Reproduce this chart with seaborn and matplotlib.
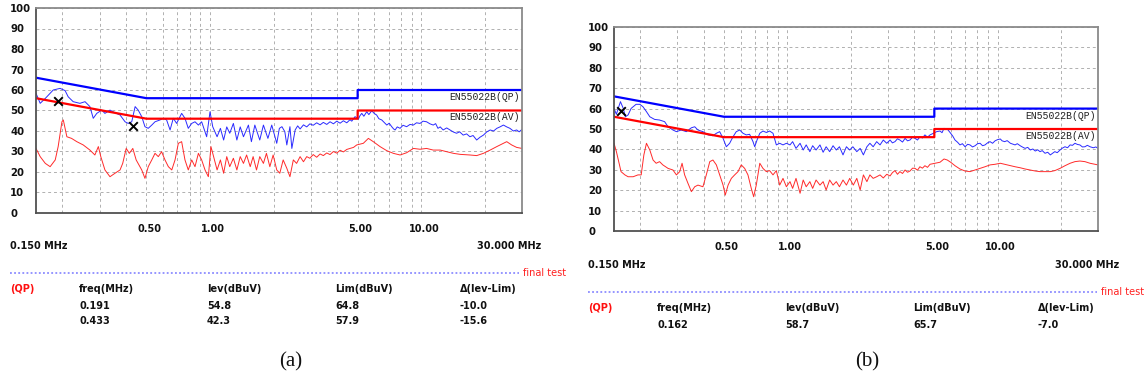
import numpy as np
import pandas as pd
import matplotlib
matplotlib.use("Agg")
import matplotlib.pyplot as plt
import matplotlib.transforms as mtransforms
from matplotlib.ticker import FixedLocator, FixedFormatter, NullFormatter
import seaborn as sns

# ---------------- data ----------------
limit_freq = [0.15, 0.5, 5.0, 5.0, 30.0]
qp_limit = [66, 56, 56, 60, 60]
av_limit = [56, 46, 46, 50, 50]

y_ticks = [0, 10, 20, 30, 40, 50, 60, 70, 80, 90, 100]
x_ticks = [0.5, 1.0, 5.0, 10.0]
x_tick_labels = ["0.50", "1.00", "5.00", "10.00"]
x_grid_minor = [0.2, 0.3, 0.4, 0.6, 0.7, 0.8, 0.9, 2, 3, 4, 6, 7, 8, 9, 20]

# panel (a) QP trace (freq MHz, level dBuV)
a_qp = [(0.150, 58.4), (0.157, 53.5), (0.166, 55.9), (0.175, 58.4), (0.181, 60.0),
        (0.195, 60.8), (0.206, 59.7), (0.213, 56.7), (0.225, 54.3), (0.242, 53.5),
        (0.256, 54.3), (0.270, 51.9), (0.280, 46.2), (0.291, 48.6), (0.307, 50.2),
        (0.318, 48.6), (0.336, 50.2), (0.355, 48.9), (0.375, 47.8), (0.396, 44.5),
        (0.410, 43.7), (0.426, 44.5), (0.442, 51.9), (0.457, 50.2), (0.475, 47.0),
        (0.492, 42.1), (0.510, 41.3), (0.530, 42.9), (0.549, 44.5), (0.580, 45.4),
        (0.601, 46.2), (0.623, 45.4), (0.647, 40.5), (0.670, 46.2), (0.695, 43.7),
        (0.734, 48.6), (0.761, 46.2), (0.789, 41.3), (0.819, 43.7), (0.849, 44.5),
        (0.881, 42.9), (0.913, 44.5), (0.964, 37.2), (1.00, 49.4), (1.03, 42.1),
        (1.08, 37.2), (1.12, 41.3), (1.16, 35.6), (1.20, 42.0), (1.24, 38.9),
        (1.29, 43.7), (1.34, 35.6), (1.39, 42.0), (1.44, 37.2), (1.52, 42.9),
        (1.57, 34.8), (1.63, 42.9), (1.72, 35.6), (1.79, 42.9), (1.88, 36.4),
        (1.96, 42.9), (2.07, 34.0), (2.13, 41.3), (2.19, 42.1), (2.26, 39.7),
        (2.31, 33.2), (2.39, 42.1), (2.44, 31.5), (2.53, 40.5), (2.60, 42.5),
        (2.67, 41.0), (2.77, 43.0), (2.87, 42.0), (2.97, 43.5), (3.08, 42.8),
        (3.20, 44.0), (3.32, 43.0), (3.44, 44.2), (3.57, 43.2), (3.70, 44.5),
        (3.84, 43.5), (3.98, 44.8), (4.13, 43.8), (4.28, 45.0), (4.44, 44.0),
        (4.60, 45.5), (4.69, 44.8), (4.86, 47.0), (5.04, 45.8), (5.13, 47.5),
        (5.23, 48.6), (5.35, 47.2), (5.52, 49.4), (5.65, 48.0), (5.83, 49.9),
        (6.00, 48.5), (6.15, 47.8), (6.30, 46.0), (6.50, 45.4), (6.70, 44.0),
        (6.87, 42.9), (7.05, 43.8), (7.25, 42.1), (7.40, 41.0), (7.52, 40.5),
        (7.70, 42.0), (7.94, 41.3), (8.20, 42.8), (8.53, 42.1), (8.85, 43.2),
        (9.18, 42.9), (9.50, 44.0), (9.87, 43.7), (10.2, 44.8), (10.6, 44.5),
        (11.0, 43.5), (11.4, 42.9), (11.7, 43.6), (12.0, 41.3), (12.3, 42.0),
        (12.7, 40.5), (13.2, 41.5), (13.7, 40.5), (14.2, 39.5), (14.7, 38.9),
        (15.2, 39.6), (15.8, 38.0), (16.4, 38.6), (17.0, 37.2), (17.6, 37.8),
        (18.3, 35.6), (19.0, 37.0), (19.7, 38.0), (20.4, 39.5), (21.2, 40.5),
        (22.0, 40.0), (22.8, 41.3), (23.6, 42.0), (24.5, 42.9), (25.4, 42.0),
        (26.3, 41.3), (27.3, 40.0), (28.3, 40.5), (29.1, 39.6), (30.0, 40.8)]

# panel (a) AV trace
a_av = [(0.150, 31.5), (0.157, 27.5), (0.166, 24.2), (0.175, 22.6), (0.185, 25.9),
        (0.191, 32.4), (0.199, 44.5), (0.202, 45.4), (0.210, 37.2), (0.221, 36.4),
        (0.234, 34.8), (0.251, 33.2), (0.270, 30.7), (0.285, 28.3), (0.296, 32.4),
        (0.304, 27.5), (0.318, 21.0), (0.336, 17.7), (0.355, 19.4), (0.375, 21.0),
        (0.386, 24.2), (0.401, 31.5), (0.415, 29.1), (0.431, 31.5), (0.447, 25.9),
        (0.475, 21.0), (0.492, 16.9), (0.510, 22.6), (0.530, 25.9), (0.549, 29.1),
        (0.569, 27.5), (0.590, 29.9), (0.612, 25.9), (0.635, 22.6), (0.659, 21.0),
        (0.683, 25.9), (0.708, 34.0), (0.734, 34.8), (0.761, 25.9), (0.789, 21.0),
        (0.819, 25.9), (0.849, 22.6), (0.881, 29.1), (0.913, 25.9), (0.947, 21.0),
        (0.982, 17.7), (1.01, 32.4), (1.04, 27.5), (1.08, 21.0), (1.12, 25.9),
        (1.16, 19.4), (1.20, 27.5), (1.24, 22.6), (1.29, 26.7), (1.34, 21.0),
        (1.39, 27.5), (1.44, 24.2), (1.49, 28.3), (1.55, 22.6), (1.60, 27.5),
        (1.66, 21.0), (1.72, 27.5), (1.79, 24.2), (1.85, 29.1), (1.92, 22.6),
        (1.99, 28.3), (2.07, 21.0), (2.14, 19.4), (2.22, 25.9), (2.31, 21.8),
        (2.39, 17.7), (2.48, 25.9), (2.57, 24.2), (2.67, 27.5), (2.77, 25.0),
        (2.87, 27.5), (2.97, 26.7), (3.08, 28.5), (3.20, 27.2), (3.32, 28.8),
        (3.44, 28.0), (3.57, 29.3), (3.70, 28.5), (3.84, 30.0), (3.98, 29.2),
        (4.13, 30.6), (4.28, 29.8), (4.44, 31.0), (4.60, 31.5), (4.78, 32.0),
        (4.95, 33.2), (5.32, 34.0), (5.62, 36.4), (5.93, 34.8), (6.38, 32.4),
        (6.87, 30.4), (7.38, 29.1), (7.94, 28.3), (8.53, 29.4), (9.18, 31.5),
        (9.87, 31.1), (10.6, 31.5), (11.4, 30.7), (12.3, 30.7), (13.2, 29.9),
        (14.2, 29.1), (15.3, 28.6), (17.0, 28.3), (18.3, 28.0), (19.7, 29.1),
        (21.2, 30.7), (22.8, 32.4), (24.5, 34.0), (25.4, 34.8), (26.8, 33.2),
        (28.3, 32.0), (30.0, 31.5)]

# panel (b) QP trace
b_qp = [(0.150, 60.1), (0.154, 57.2), (0.158, 60.9), (0.161, 63.4), (0.166, 60.1),
        (0.170, 56.0), (0.175, 56.9), (0.181, 60.1), (0.191, 62.1), (0.199, 62.1),
        (0.206, 60.9), (0.214, 58.5), (0.222, 56.0), (0.234, 54.7), (0.247, 54.4),
        (0.261, 53.6), (0.271, 51.1), (0.286, 49.5), (0.297, 48.7), (0.313, 49.5),
        (0.331, 48.7), (0.350, 50.6), (0.363, 51.1), (0.376, 49.5), (0.397, 48.7),
        (0.420, 47.1), (0.443, 46.7), (0.460, 47.9), (0.477, 48.7), (0.495, 45.4),
        (0.513, 41.3), (0.532, 43.0), (0.552, 46.2), (0.572, 48.7), (0.594, 49.5),
        (0.616, 47.9), (0.638, 47.1), (0.662, 47.4), (0.687, 43.8), (0.700, 41.3),
        (0.718, 44.6), (0.740, 47.9), (0.766, 49.0), (0.795, 48.3), (0.824, 49.0),
        (0.855, 47.9), (0.887, 42.2), (0.920, 43.0), (0.954, 42.2), (0.990, 43.0),
        (1.03, 42.2), (1.06, 43.8), (1.10, 40.5), (1.15, 43.0), (1.19, 39.7),
        (1.23, 42.2), (1.28, 38.9), (1.32, 41.8), (1.37, 39.7), (1.43, 42.2),
        (1.48, 38.6), (1.53, 41.3), (1.59, 38.9), (1.65, 41.8), (1.71, 39.7),
        (1.77, 41.3), (1.84, 37.3), (1.91, 41.3), (1.98, 39.7), (2.05, 41.3),
        (2.14, 38.9), (2.22, 40.5), (2.30, 37.3), (2.39, 41.3), (2.47, 43.0),
        (2.56, 41.3), (2.66, 43.8), (2.76, 42.2), (2.86, 44.6), (2.97, 43.0),
        (3.08, 44.6), (3.16, 43.2), (3.25, 43.8), (3.34, 45.2), (3.43, 44.6),
        (3.53, 43.6), (3.63, 45.4), (3.73, 44.2), (3.83, 44.6), (3.94, 46.0),
        (4.05, 45.4), (4.16, 44.6), (4.27, 46.2), (4.39, 45.6), (4.51, 47.1),
        (4.64, 46.0), (4.77, 47.1), (4.95, 47.9), (5.13, 48.7), (5.32, 49.0),
        (5.44, 48.2), (5.56, 50.3), (5.76, 50.0), (5.98, 47.9), (6.12, 46.5),
        (6.27, 44.6), (6.45, 43.5), (6.62, 42.2), (6.80, 42.8), (7.00, 41.3),
        (7.20, 42.5), (7.39, 42.2), (7.60, 41.2), (7.81, 41.8), (8.03, 42.8),
        (8.25, 43.0), (8.48, 41.8), (8.71, 42.2), (8.95, 43.2), (9.20, 43.8),
        (9.46, 43.0), (9.72, 44.2), (10.0, 44.8), (10.3, 45.1), (10.5, 44.2),
        (10.8, 43.8), (11.1, 44.3), (11.5, 43.0), (11.8, 42.6), (12.1, 42.2),
        (12.4, 42.8), (12.8, 41.8), (13.1, 41.2), (13.5, 40.5), (13.9, 41.0),
        (14.3, 39.7), (14.7, 40.2), (15.1, 39.2), (15.5, 39.8), (15.9, 38.9),
        (16.3, 39.4), (16.8, 38.1), (17.3, 38.6), (17.8, 37.3), (18.2, 38.0),
        (18.7, 38.9), (19.2, 38.4), (19.8, 39.7), (20.3, 40.6), (20.9, 41.3),
        (21.5, 40.8), (22.1, 42.2), (22.7, 42.0), (23.3, 43.0), (24.0, 42.4),
        (24.6, 42.2), (25.3, 41.2), (26.0, 41.3), (26.7, 42.0), (27.5, 41.3),
        (28.5, 40.8), (29.3, 41.2), (30.0, 40.5)]

# panel (b) AV trace
b_av = [(0.150, 43.0), (0.154, 38.9), (0.158, 34.0), (0.162, 29.1), (0.169, 27.5),
        (0.175, 26.6), (0.185, 26.6), (0.195, 27.5), (0.202, 27.5), (0.208, 37.3),
        (0.214, 43.0), (0.222, 39.7), (0.230, 34.8), (0.238, 33.2), (0.247, 34.0),
        (0.256, 32.4), (0.271, 30.7), (0.286, 29.9), (0.297, 27.5), (0.308, 29.1),
        (0.316, 33.2), (0.325, 27.5), (0.337, 23.4), (0.350, 19.3), (0.363, 21.7),
        (0.376, 22.5), (0.397, 21.7), (0.412, 27.5), (0.428, 34.0), (0.443, 34.8),
        (0.460, 32.4), (0.477, 27.5), (0.495, 22.5), (0.507, 17.6), (0.523, 22.5),
        (0.542, 25.8), (0.562, 27.5), (0.583, 29.1), (0.604, 32.4), (0.627, 30.7),
        (0.650, 27.5), (0.674, 20.9), (0.692, 16.8), (0.712, 22.5), (0.740, 33.2),
        (0.766, 30.7), (0.795, 29.1), (0.824, 29.6), (0.855, 27.5), (0.887, 29.6),
        (0.920, 22.5), (0.954, 25.8), (0.990, 21.7), (1.03, 24.2), (1.06, 20.9),
        (1.10, 25.8), (1.15, 18.5), (1.19, 25.0), (1.23, 21.7), (1.28, 24.2),
        (1.32, 20.9), (1.37, 25.0), (1.43, 22.5), (1.48, 24.2), (1.53, 20.1),
        (1.59, 25.0), (1.65, 22.5), (1.71, 24.2), (1.77, 21.7), (1.84, 25.0),
        (1.91, 22.5), (1.98, 25.8), (2.06, 22.5), (2.14, 25.8), (2.22, 20.1),
        (2.30, 27.5), (2.39, 24.2), (2.47, 27.5), (2.56, 25.8), (2.66, 26.6),
        (2.76, 27.5), (2.86, 26.0), (2.97, 27.8), (3.08, 27.0), (3.16, 28.6),
        (3.25, 29.6), (3.34, 27.8), (3.43, 29.1), (3.53, 28.2), (3.63, 29.9),
        (3.73, 28.8), (3.83, 29.4), (3.94, 30.8), (4.05, 30.7), (4.16, 29.8),
        (4.27, 31.5), (4.39, 30.8), (4.51, 32.0), (4.64, 31.2), (4.77, 32.7),
        (5.04, 33.2), (5.32, 33.7), (5.56, 35.3), (5.76, 34.8), (5.98, 33.7),
        (6.27, 32.0), (6.62, 30.4), (7.00, 29.4), (7.39, 29.1), (7.81, 29.9),
        (8.25, 30.7), (8.71, 31.5), (9.20, 32.4), (9.72, 32.7), (10.3, 33.2),
        (10.8, 32.7), (11.5, 32.0), (12.1, 31.5), (12.8, 31.0), (13.5, 30.4),
        (14.3, 29.9), (15.1, 29.4), (15.9, 29.1), (16.8, 29.1), (17.8, 29.1),
        (18.7, 29.6), (19.8, 30.7), (20.9, 32.0), (22.1, 33.2), (23.3, 34.0),
        (24.6, 34.3), (26.0, 34.0), (27.5, 33.2), (30.0, 32.4)]

# final-test markers
a_mark_freq = [0.191, 0.433]
a_mark_lev = [54.8, 42.3]
b_mark_freq = [0.162]
b_mark_lev = [58.7]

table_header = ["freq(MHz)", "lev(dBuV)", "Lim(dBuV)", "\u0394(lev-Lim)"]
a_rows = [["0.191", "54.8", "64.8", "-10.0"],
          ["0.433", "42.3", "57.9", "-15.6"]]
b_rows = [["0.162", "58.7", "65.7", "-7.0"]]

# ---------------- figure ----------------
W, H = 1146, 385
sns.set_theme(style="white")
plt.rcParams["font.family"] = ["DejaVu Sans"]

fig = plt.figure(figsize=(W / 100, H / 100), dpi=100)


def fx(x):
    return x / W


def fy(y):
    return 1 - y / H


BOLD = dict(fontweight="bold", fontsize=7, color="#111111")


def draw_panel(ox, oy, axw, axh, qp, av, mf, ml, rows, caption, cap_x, cap_y):
    ax = fig.add_axes([fx(36 + ox), fy(8 + oy + axh), axw / W, axh / H])
    ax.set_axisbelow(True)
    qp_df = pd.DataFrame(qp, columns=["freq", "lev"])
    av_df = pd.DataFrame(av, columns=["freq", "lev"])
    lim_df = pd.DataFrame({"freq": limit_freq, "qp": qp_limit, "av": av_limit})

    sns.lineplot(data=av_df, x="freq", y="lev", ax=ax, color="#ff2a2a", lw=0.7,
                 estimator=None, sort=False)
    sns.lineplot(data=qp_df, x="freq", y="lev", ax=ax, color="#2a2aff", lw=0.7,
                 estimator=None, sort=False)
    sns.lineplot(data=lim_df, x="freq", y="qp", ax=ax, color="#0000ff", lw=1.6,
                 estimator=None, sort=False)
    sns.lineplot(data=lim_df, x="freq", y="av", ax=ax, color="#ff0000", lw=1.6,
                 estimator=None, sort=False)
    sns.scatterplot(x=mf, y=ml, ax=ax, marker="x", color="black", s=38,
                    linewidth=1.4, zorder=6)

    ax.set_xscale("log")
    ax.set_xlim(0.15, 30)
    ax.set_ylim(0, 100)
    ax.set_xlabel("")
    ax.set_ylabel("")
    ax.xaxis.set_major_locator(FixedLocator(x_ticks))
    ax.xaxis.set_major_formatter(FixedFormatter(x_tick_labels))
    ax.xaxis.set_minor_locator(FixedLocator(x_grid_minor))
    ax.xaxis.set_minor_formatter(NullFormatter())
    ax.set_yticks(y_ticks)
    ax.set_yticklabels([str(v) for v in y_ticks])
    ax.tick_params(which="both", length=0)
    ax.tick_params(axis="x", pad=8.0, labelsize=7)
    ax.tick_params(axis="y", pad=18.7, labelsize=7.3)
    shift = mtransforms.ScaledTranslation(3 / 100, 0, fig.dpi_scale_trans)
    for lab in ax.get_xticklabels():
        lab.set_fontweight("bold")
        lab.set_color("#111111")
        lab.set_transform(lab.get_transform() + shift)
    for lab in ax.get_yticklabels():
        lab.set_fontweight("bold")
        lab.set_color("#111111")
        lab.set_ha("left")
    ax.grid(True, which="both", axis="both", color="#b0b0b0",
            ls=(0, (3, 3)), lw=0.7)
    for name, sp in ax.spines.items():
        sp.set_linewidth(1.3)
        sp.set_color("#505050" if name in ("left", "bottom") else "#8a8a8a")

    # limit labels
    tr = mtransforms.blended_transform_factory(ax.transAxes, ax.transData)
    ax.text(0.995, 56.6, "EN55022B(QP)", transform=tr, ha="right", va="center",
            family="Liberation Mono", fontsize=7, color="#222222")
    ax.text(0.995, 46.8, "EN55022B(AV)", transform=tr, ha="right", va="center",
            family="Liberation Mono", fontsize=7, color="#222222")

    # frequency span labels
    fig.text(fx(10 + ox), fy(246 + oy), "0.150 MHz", ha="left", va="center", **BOLD)
    fig.text(fx(541 + ox), fy(246 + oy), "30.000 MHz", ha="right", va="center", **BOLD)

    # dotted separator + "final test"
    fig.add_artist(plt.Line2D([fx(10 + ox), fx(519 + ox)], [fy(273 + oy), fy(273 + oy)],
                              color="#7878ff", lw=1.1, ls=(0, (1.2, 1.5))))
    fig.text(fx(523 + ox), fy(273 + oy), "final test", ha="left", va="center",
             fontsize=7, color="#ff2020")

    # table
    fig.text(fx(10 + ox), fy(289 + oy), "(QP)", ha="left", va="center",
             fontweight="bold", fontsize=7, color="#ff1010")
    col_x = [79, 207, 335, 460]
    for cx, head in zip(col_x, table_header):
        fig.text(fx(cx + ox), fy(289 + oy), head, ha="left", va="center", **BOLD)
    for r, row in enumerate(rows):
        for cx, val in zip(col_x, row):
            fig.text(fx(cx + ox), fy(306 + 15 * r + oy), val, ha="left",
                     va="center", **BOLD)

    fig.text(fx(cap_x), fy(cap_y), caption, ha="center", va="center",
             family="Liberation Serif", fontsize=15, color="#111111")
    return ax


draw_panel(0, 0, 486, 205, a_qp, a_av, a_mark_freq, a_mark_lev, a_rows, "(a)", 291, 362)
draw_panel(578, 19, 484, 204, b_qp, b_av, b_mark_freq, b_mark_lev, b_rows, "(b)", 867, 362)

fig.savefig("out.png", dpi=100, facecolor="white")
